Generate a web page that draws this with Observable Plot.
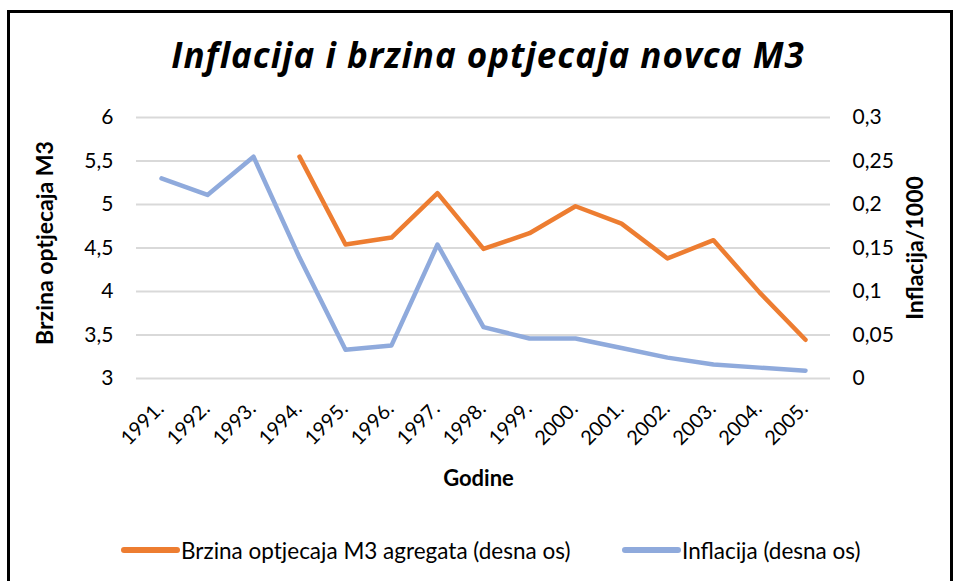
<!DOCTYPE html>
<html>
<head>
<meta charset="utf-8">
<script src="https://cdn.jsdelivr.net/npm/d3@7"></script>
<script src="https://cdn.jsdelivr.net/npm/@observablehq/plot@0.6"></script>
<style>
  html, body { margin: 0; padding: 0; background: #fff; }
  body { width: 956px; height: 581px; overflow: hidden; position: relative; font-family: Lato, "Open Sans", sans-serif; }
  #frame { position: absolute; left: 7px; top: 10px; width: 946px; height: 590px; border: 3px solid #000; box-sizing: border-box; }
  #title { position: absolute; left: 10px; top: 31px; width: 956px; text-align: center; font-family: "Open Sans", sans-serif; font-size: 35px; line-height: 48px; letter-spacing: 1px; font-weight: bold; font-style: italic; color: #000; }
  #chart { position: absolute; left: 0; top: 90px; }
  #legend { position: absolute; top: 535px; left: 0; width: 956px; height: 30px; font-size: 22.5px; color: #000; }
  .item { position: absolute; top: 0; height: 30px; display: flex; align-items: center; white-space: nowrap; }
</style>
</head>
<body>
<div id="frame"></div>
<div id="title">Inflacija i brzina optjecaja novca M3</div>
<div id="chart"></div>
<div id="legend"></div>
<script>
const years = ["1991.","1992.","1993.","1994.","1995.","1996.","1997.","1998.","1999.","2000.","2001.","2002.","2003.","2004.","2005."];
const brzina = [null, null, null, 5.55, 4.54, 4.62, 5.13, 4.49, 4.67, 4.98, 4.78, 4.38, 4.59, 3.99, 3.445];
const inflacija = [0.230, 0.211, 0.255, 0.139, 0.033, 0.038, 0.154, 0.059, 0.046, 0.046, 0.035, 0.024, 0.016, 0.0125, 0.009];
const leftTicks = [3, 3.5, 4, 4.5, 5, 5.5, 6];
const rightTicks = [0, 0.05, 0.1, 0.15, 0.2, 0.25, 0.3];
const seriesNames = ["Brzina optjecaja M3 agregata (desna os)", "Inflacija (desna os)"];
const colors = ["#ED7D31", "#8FAADC"];
const leftTitle = "Brzina optjecaja M3";
const rightTitle = "Inflacija/1000";
const xTitle = "Godine";

// right-axis value -> left-scale value (0..0.3 maps onto 3..6)
const toLeft = v => 3 + v * 10;
const fromLeft = d => (d - 3) / 10;
const fmt = v => String(Math.round(v * 1000) / 1000).replace(".", ",");

const orangeData = years.map((y, i) => ({year: y, v: brzina[i]})).filter(d => d.v != null);
const blueData = years.map((y, i) => ({year: y, v: toLeft(inflacija[i])}));

const W = 956, H = 420;
const FONT = "Lato, 'Open Sans', sans-serif";
const chart = Plot.plot({
  width: W,
  height: H,
  marginTop: 27,
  marginBottom: 132,
  marginLeft: 136,
  marginRight: 126,
  style: {fontFamily: FONT, fontSize: "21px", color: "#000", background: "transparent", overflow: "visible"},
  x: {type: "point", domain: years, padding: 0.5},
  y: {domain: [3, 6]},
  marks: [
    Plot.gridY(leftTicks, {stroke: "#D9D9D9", strokeOpacity: 1, strokeWidth: 2}),
    Plot.axisY(leftTicks, {anchor: "left", tickSize: 0, tickPadding: 23, tickFormat: fmt, label: null, fontSize: 21}),
    Plot.axisY(rightTicks.map(toLeft), {anchor: "right", tickSize: 0, tickPadding: 22, tickFormat: d => fmt(fromLeft(d)), label: null, fontSize: 21}),
    Plot.axisX(years, {anchor: "bottom", tickSize: 0, tickRotate: -45, tickPadding: 27, dx: -1, label: null, fontSize: 20}),
    Plot.line(blueData, {x: "year", y: "v", stroke: colors[1], strokeWidth: 4.5, strokeLinecap: "round", strokeLinejoin: "round"}),
    Plot.line(orangeData, {x: "year", y: "v", stroke: colors[0], strokeWidth: 4.5, strokeLinecap: "round", strokeLinejoin: "round"}),
    Plot.text([xTitle], {frameAnchor: "bottom", dx: -5, dy: 107, fontWeight: "bold", fontSize: 22}),
    Plot.text([leftTitle], {frameAnchor: "left", textAnchor: "middle", rotate: -90, dx: -91, dy: -5, fontWeight: "bold", fontSize: 23}),
    Plot.text([rightTitle], {frameAnchor: "right", textAnchor: "middle", rotate: -90, dx: 85, fontWeight: "bold", fontSize: 23})
  ]
});
document.getElementById("chart").appendChild(chart);

// legend
const legend = document.getElementById("legend");
const lefts = [120, 621];
seriesNames.forEach((name, i) => {
  const it = document.createElement("div");
  it.className = "item";
  it.style.left = lefts[i] + "px";
  it.innerHTML = `<svg width="61" height="30"><line x1="4" y1="15" x2="57" y2="15" stroke="${colors[i]}" stroke-width="6" stroke-linecap="round"/></svg><span>${name}</span>`;
  legend.appendChild(it);
});
</script>
</body>
</html>
